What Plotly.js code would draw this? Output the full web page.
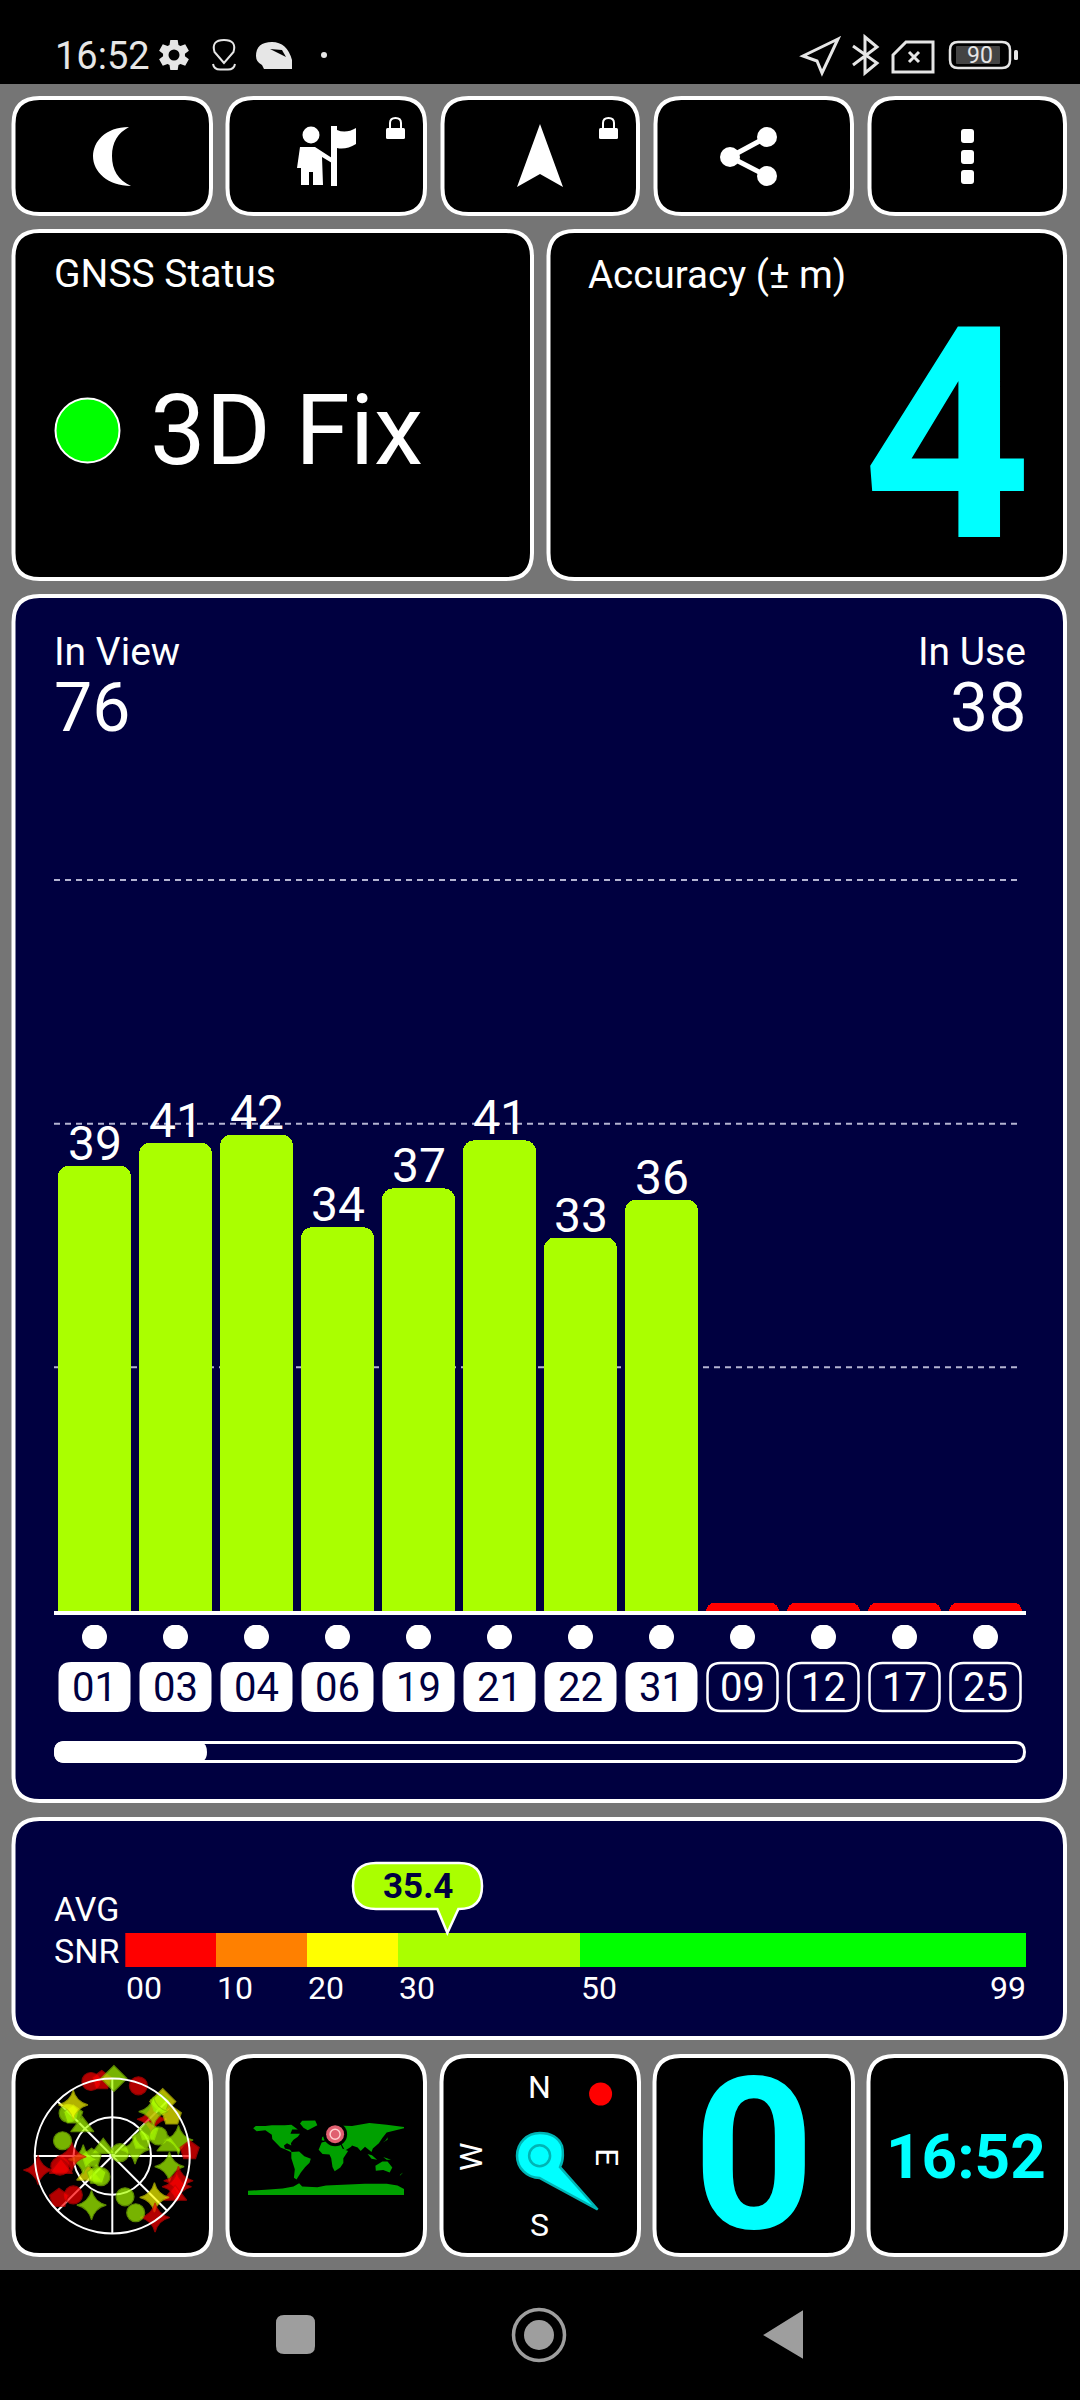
<!DOCTYPE html>
<html>
<head>
<meta charset="utf-8">
<script src="https://cdn.plot.ly/plotly-3.0.1.min.js"></script>
<style>
  html, body { margin: 0; padding: 0; background: #757575; }
  #chart { width: 1080px; height: 2400px; }
</style>
</head>
<body>
<div id="chart"></div>
<script>
// satellites
const prns = ['01', '03', '04', '06', '19', '21', '22', '31', '09', '12', '17', '25'];
const snrValues = [39, 41, 41.7, 33.6, 37, 41.2, 32.7, 36, 0.7, 0.7, 0.7, 0.7];
const usedFlags = [1, 1, 1, 1, 1, 1, 1, 1, 0, 0, 0, 0];
const gridValues = [21.33, 42.67, 64];

// average SNR scale
const snrBandWidths = [10, 10, 10, 20, 49];
const snrTicks = [0, 10, 20, 30, 50, 99];
const snrTickText = ['00', '10', '20', '30', '50', '99'];
const avgSnr = 35.4;

// sky plot, drawn in this order
const skyAz = [47, 42.8, 42.1, 56, 42.8, 55.9, 61.4, 66.5, 79.9, 76.4, 73.6, 66.5, 86, 100.6, 110.5, 115.5, 122, 134.5, 145.2, 157.6, 162.7, 202.9, 231.6, 208.7, 219.5, 263.6, 263.4, 225, 231.6, 259, 256.5, 269, 259.3, 287, 310.4, 314.4, 314, 316.4, 322.6, 344, 20.4, 352, 1.2];
const skyZen = [62.6, 86.2, 82.7, 83.3, 70.3, 50.6, 38.9, 58.4, 66.2, 79, 27.5, 9.7, 90, 67.5, 82, 83, 86, 68.6, 87, 71.3, 49.6, 61.9, 35.6, 27.4, 28.7, 24.2, 34, 64, 79, 62, 61.4, 47.3, 87.7, 60.5, 13.8, 48.8, 71.3, 65.9, 74.7, 90, 87, 88.5, 90];
const skyShape = ['star', 'diamond', 'pentagon', 'pentagon', 'star', 'pentagon', 'pentagon', 'circle', 'triangle', 'star', 'star', 'circle', 'pentagon', 'star', 'star', 'star', 'triangle', 'star', 'star', 'circle', 'circle', 'star', 'triangle', 'circle', 'pentagon', 'pentagon', 'star', 'circle', 'pentagon', 'circle', 'triangle', 'star', 'star', 'circle', 'triangle', 'triangle', 'circle', 'pentagon', 'star', 'circle', 'circle', 'pentagon', 'diamond'];
const skyTone = ['r', 'y', 'g', 'y', 'g', 'g', 'g', 'g', 'g', 'g', 'g', 'g', 'r', 'g', 'r', 'r', 'r', 'y', 'r', 'g', 'g', 'g', 'y', 'g', 'g', 'g', 'g', 'r', 'r', 'r', 'r', 'r', 'r', 'g', 'g', 'g', 'g', 'g', 'y', 'r', 'r', 'r', 'g'];

// world map outlines, lon / lat, null between land masses
const landLon = [-168, -162, -140, -125, -95, -80, -65, -78, -82, -60, -65, -75, -81, -80, -90, -97, -95, -83, -78, -85, -95, -105, -115, -124, -125, -140, -160, -168, null,
  -55, -25, -20, -42, -52, -60, null,
  -80, -62, -50, -35, -38, -48, -58, -68, -74, -72, -80, null,
  -17, -10, 10, 32, 38, 51, 40, 40, 33, 20, 15, 12, 8, -8, null,
  -10, -9, 0, 8, 5, 25, 60, 100, 140, 180, 180, 162, 140, 130, 122, 108, 105, 100, 95, 90, 80, 73, 60, 58, 44, 35, 28, 20, 12, 5, -5, null,
  114, 130, 142, 153, 147, 132, 115, null,
  96, 105, 118, 106, null,
  132, 150, 140, null,
  131, 142, 142, 138, null,
  -6, 1, -3, null,
  172, 178, 170, null,
  -180, -180, -140, -100, -75, -62, -55, -20, 0, 40, 90, 140, 165, 180, 180];
const landLat = [65, 70, 70, 72, 72, 73, 62, 62, 52, 52, 45, 38, 30, 25, 30, 25, 18, 15, 8, 12, 16, 20, 30, 40, 50, 60, 58, 65, null,
  82, 83, 72, 60, 66, 76, null,
  10, 11, 0, -6, -15, -25, -38, -54, -50, -30, -5, null,
  15, 32, 37, 31, 18, 12, -5, -16, -26, -35, -25, -5, 4, 5, null,
  37, 44, 50, 57, 62, 71, 70, 77, 73, 68, 65, 60, 55, 42, 30, 18, 10, 14, 18, 22, 12, 20, 25, 22, 13, 30, 37, 38, 44, 43, 36, null,
  -22, -12, -12, -26, -38, -32, -34, null,
  5, -6, -8, 2, null,
  -2, -8, -8, null,
  32, 38, 44, 37, null,
  50, 52, 58, null,
  -42, -38, -46, null,
  -90, -80, -78, -75, -70, -63, -70, -72, -68, -66, -64, -64, -68, -76, -90];
const fixLon = [21];
const fixLat = [51];

const NAVY = '#000040';
const LIME = '#aaff00';
const CYAN = '#00ffff';
const GREY = '#9e9e9e';
const STATUS = '#e6e6e6';
const FONT = 'Roboto, sans-serif';
const bandColors = ['#ff0000', '#ff8000', '#ffff00', LIME, '#00ff00'];
const toneFill = { r: '#ff0000', y: '#ffff00', g: LIME };
const toneLine = { r: '#c80000', y: '#c8c800', g: '#80c000' };
const symbolOf = { star: 'star-diamond', circle: 'circle', triangle: 'triangle-up', pentagon: 'pentagon', diamond: 'diamond' };
const sizeOf = { star: 21, circle: 18, triangle: 20, pentagon: 20, diamond: 20 };

// page is laid out in pixels
const domX = (a, b) => [a / 1080, b / 1080];
const domY = (top, bottom) => [1 - bottom / 2400, 1 - top / 2400];

function bandColor(v) {
  let edge = 0;
  for (let i = 0; i < snrBandWidths.length; i++) {
    edge += snrBandWidths[i];
    if (v < edge) return bandColors[i];
  }
  return bandColors[bandColors.length - 1];
}

function rr(x0, y0, x1, y1, r) {
  return `M${x0 + r},${y0} L${x1 - r},${y0} Q${x1},${y0} ${x1},${y0 + r} L${x1},${y1 - r} Q${x1},${y1} ${x1 - r},${y1} L${x0 + r},${y1} Q${x0},${y1} ${x0},${y1 - r} L${x0},${y0 + r} Q${x0},${y0} ${x0 + r},${y0} Z`;
}

const shapes = [];
const annotations = [];

function path(d, fill, line, width, layer) {
  shapes.push({
    type: 'path', xref: 'x', yref: 'y', path: d, fillcolor: fill || 'rgba(0,0,0,0)',
    line: { color: line || 'rgba(0,0,0,0)', width: line ? (width || 2) : 0 }, layer: layer || 'below'
  });
}

function circle(cx, cy, r, fill, line, width, layer) {
  shapes.push({
    type: 'circle', xref: 'x', yref: 'y', x0: cx - r, x1: cx + r, y0: cy - r, y1: cy + r,
    fillcolor: fill || 'rgba(0,0,0,0)', line: { color: line || 'rgba(0,0,0,0)', width: line ? (width || 2) : 0 }, layer: layer || 'below'
  });
}

function label(text, x, y, size, color, anchor, opts) {
  const o = opts || {};
  annotations.push({
    text: text, x: x, y: y, xref: o.xref || 'x', yref: 'y', showarrow: false,
    xanchor: anchor || 'left', yanchor: 'middle', textangle: o.angle || 0, borderpad: 0, borderwidth: 0,
    font: { family: FONT, size: size, color: color, weight: o.weight || 400 }
  });
}

function panel(x0, y0, x1, y1, fill) {
  path(rr(x0 + 1.5, y0 + 2, x1 - 1, y1 - 2, 26), fill, '#ffffff', 4);
}

function lock(x) {
  path(rr(x, 128, x + 19, 139, 1.5), '#ffffff');
  path(`M${x + 4},129 L${x + 4},123 Q${x + 4},118 ${x + 9.5},118 Q${x + 15},118 ${x + 15},123 L${x + 15},129`, null, '#ffffff', 2);
}

function gear(cx, cy) {
  let d = '';
  for (let i = 0; i < 6; i++) {
    const a = i * Math.PI / 3;
    const pts = [[a - 0.42, 11], [a - 0.24, 15.5], [a + 0.24, 15.5], [a + 0.42, 11]];
    pts.forEach((p, k) => {
      d += `${i === 0 && k === 0 ? 'M' : 'L'}${cx + p[1] * Math.sin(p[0])},${cy - p[1] * Math.cos(p[0])} `;
    });
  }
  path(d + 'Z', STATUS);
  circle(cx, cy, 5.5, '#000000');
}

// backgrounds
path('M0,0 L1080,0 L1080,84 L0,84 Z', '#000000');
path('M0,2270 L1080,2270 L1080,2400 L0,2400 Z', '#000000');

[[12, 212], [226, 426], [441, 639], [654, 853], [868, 1066]].forEach(b => panel(b[0], 96, b[1], 216, '#000000'));
panel(12, 229, 533, 581, '#000000');
panel(547, 229, 1066, 581, '#000000');
panel(12, 594, 1066, 1803, NAVY);
panel(12, 1817, 1066, 2040, NAVY);
[[12, 212], [226, 426], [440, 640], [653, 854], [867, 1067]].forEach(b => panel(b[0], 2054, b[1], 2257, '#000000'));

// status bar
label('16:52', 55, 56, 38, STATUS);
gear(174, 55);
path('M224,63 L214.5,52 Q211,40 224,40 Q237,40 233.5,52 Z', null, STATUS, 2);
path('M213,64 Q214,69.5 220,69.5 L228,69.5 Q234,69.5 235,64', null, STATUS, 2);
path('M256,56 Q256,42 272,42 Q287,42 292,60 L292,69 L264,69 L262,65 Q256,62 256,56 Z', STATUS);
path('M270,49 L282,50 L286,57 Z', '#000000');
circle(324, 55, 3, STATUS);
path('M838,39 L803,56 L817,61 L822,73 Z', null, STATUS, 3);
path('M853,46 L877,63 L865,73 L865,37 L877,47 L853,65', null, STATUS, 3);
path('M893,55 L906,42 L933,42 L933,72 L893,72 Z', null, STATUS, 3);
path('M909,52 L919,62 M919,52 L909,62', null, STATUS, 3);
path(rr(950, 42, 1010, 68, 8), null, STATUS, 2.5);
path(rr(956, 46, 1000, 64, 1), '#444444');
label('90', 980, 55, 23, STATUS, 'center');
path(rr(1014, 50, 1018, 60, 1.5), STATUS);

// toolbar icons
path('M129,127 C105,127 93,142 93,156 C93,172 108,186 131,186 C118,180 112,170 112,156 C112,142 118,133 129,127 Z', '#ffffff');
circle(311, 135, 8.5, '#ffffff');
path('M300,147 L315,147 L332,158 L332,163 L322,157 L323,185 L313,185 L313,172 L309,172 L309,185 L301,185 L301,168 L297,168 Z', '#ffffff');
path('M331,126 L337,126 L337,186 L331,186 Z', '#ffffff');
path('M337,130 Q346,134 356,128 L356,144 Q346,150 337,148 Z', '#ffffff');
lock(386);
path('M540,124 L563,187 L540,174 L517,187 Z', '#ffffff');
lock(599);
path('M767,137 L730,157 L767,176', null, '#ffffff', 5);
circle(767, 137, 10, '#ffffff');
circle(730, 157, 10, '#ffffff');
circle(767, 176, 10, '#ffffff');
[129, 150, 170].forEach(y => path(rr(961, y, 974, y + 14, 3), '#ffffff'));

// status panels
label('GNSS Status', 54, 274, 39, '#ffffff');
label('Accuracy (± m)', 588, 274, 38.5, '#ffffff');
circle(87.5, 430.5, 32, '#00ff00', '#ffffff', 2);
label('3D Fix', 150, 430, 99, '#ffffff');
label('4', 1032, 435, 296, CYAN, 'right', { weight: 700 });

// chart header
label('In View', 54, 652, 39, '#ffffff');
label('76', 54, 708, 68, '#ffffff');
label('In Use', 1026, 652, 39, '#ffffff', 'right');
label('38', 1026, 708, 68, '#ffffff', 'right');

// bar grid, same scale as the bar axis
const barBase = 1611, barPxPerUnit = 731 / 64;
gridValues.forEach(v => {
  const y = barBase - v * barPxPerUnit;
  shapes.push({
    type: 'line', xref: 'x', yref: 'y', x0: 54, x1: 1022, y0: y, y1: y, layer: 'below',
    line: { color: '#b4b4d2', width: 2, dash: '6px,5px' }
  });
});

// SNR labels above the bars
snrValues.forEach((v, i) => {
  if (v < 1) return;
  annotations.push({
    text: String(Math.round(v)), x: i, y: v, xref: 'x2', yref: 'y2', showarrow: false,
    xanchor: 'center', yanchor: 'bottom', yshift: -6, borderpad: 0, borderwidth: 0,
    font: { family: FONT, size: 48, color: '#ffffff' }
  });
});

// PRN chips under the bars
prns.forEach((p, i) => {
  const cx = 54 + 81 * (i + 0.5);
  if (usedFlags[i]) {
    path(rr(cx - 36, 1662, cx + 36, 1712, 13), '#ffffff');
  } else {
    path(rr(cx - 35, 1663, cx + 35, 1711, 13), null, '#ffffff', 2.5);
  }
  label(p, i, 1687, 40, usedFlags[i] ? NAVY : '#ffffff', 'center', { xref: 'x2' });
});

// list scroll bar
path(rr(55.5, 1742.5, 1024.5, 1761.5, 9.5), null, '#ffffff', 3);
path(rr(54, 1741, 207, 1763, 11), '#ffffff');

// average SNR
const snrLeft = 125.3, snrRight = 1026;
const snrPx = v => snrLeft + v * (snrRight - snrLeft) / 99;
label('AVG', 54, 1909, 34, '#ffffff');
label('SNR', 54, 1951, 34, '#ffffff');
snrTicks.forEach((t, i) => {
  const last = i === snrTicks.length - 1;
  label(snrTickText[i], last ? t : t + 0.1, 1988, 32, '#ffffff', last ? 'right' : 'left', { xref: 'x3' });
});
const tip = snrPx(avgSnr);
const bl = 353, br = 482, bt = 1863, bb = 1909, br2 = 23;
path(`M${bl + br2},${bt} L${br - br2},${bt} Q${br},${bt} ${br},${bt + br2} Q${br},${bb} ${br - br2},${bb} L${tip + 11},${bb} L${tip},1933 L${tip - 10},${bb} L${bl + br2},${bb} Q${bl},${bb} ${bl},${bb - br2} Q${bl},${bt} ${bl + br2},${bt} Z`, LIME, '#ffffff', 2.5, 'above');
label(String(avgSnr), 417.5, 1886, 35, NAVY, 'center', { weight: 700 });

// compass
label('N', 539, 2087, 32, '#ffffff', 'center');
label('S', 539, 2225, 32, '#ffffff', 'center');
label('E', 607, 2157, 32, '#ffffff', 'center', { angle: 90 });
label('W', 471, 2157, 32, '#ffffff', 'center', { angle: -90 });
circle(600.6, 2094, 11.5, '#ff0000');
path('M597.6,2209.5 L560,2167 C564,2160 563,2150 562,2146 C558,2136 549,2133 539.6,2133 C527,2133 517,2143 517,2155.7 C517,2168 527,2178 539.6,2178 L545,2181 Z', CYAN, '#00b4b4', 2.5);
circle(539.6, 2155.7, 10.5, null, '#00b4b4', 2.5);

// bottom panel readouts
label('0', 754, 2155, 212, CYAN, 'center', { weight: 700 });
label('16:52', 966, 2156, 62, CYAN, 'center', { weight: 700 });

// navigation bar
path(rr(276, 2315, 315, 2354, 8), GREY);
circle(539, 2335, 25.5, null, GREY, 3.5);
circle(539, 2335, 15, GREY);
path('M765,2335 L802,2312 L802,2357 Z', GREY, GREY, 2);

// traces
const traces = [];

traces.push({
  type: 'bar', x: prns, y: snrValues, xaxis: 'x2', yaxis: 'y2',
  marker: { color: snrValues.map(bandColor), cornerradius: 11 },
  hoverinfo: 'skip'
});

traces.push({
  type: 'scatter', mode: 'markers', x: prns, y: prns.map(() => 0), xaxis: 'x2', yaxis: 'y4',
  marker: { color: '#ffffff', size: 25 }, hoverinfo: 'skip'
});

snrBandWidths.forEach((w, i) => {
  traces.push({
    type: 'bar', orientation: 'h', x: [w], y: ['SNR'], xaxis: 'x3', yaxis: 'y3',
    marker: { color: bandColors[i] }, hoverinfo: 'skip'
  });
});

traces.push({
  type: 'scatterpolar', mode: 'markers', subplot: 'polar', r: skyZen, theta: skyAz, cliponaxis: false,
  marker: {
    symbol: skyShape.map(s => symbolOf[s]),
    size: skyShape.map(s => sizeOf[s]),
    color: skyTone.map(t => toneFill[t]),
    line: { color: skyTone.map(t => toneLine[t]), width: 1.2 }
  },
  hoverinfo: 'skip'
});

traces.push({
  type: 'scatter', mode: 'lines', x: landLon, y: landLat, xaxis: 'x5', yaxis: 'y5',
  fill: 'toself', fillcolor: '#00a000', line: { width: 0 }, hoverinfo: 'skip'
});
traces.push({
  type: 'scatter', mode: 'markers', x: fixLon, y: fixLat, xaxis: 'x5', yaxis: 'y5', cliponaxis: false,
  marker: { color: '#000000', size: 24 }, hoverinfo: 'skip'
});
traces.push({
  type: 'scatter', mode: 'markers', x: fixLon, y: fixLat, xaxis: 'x5', yaxis: 'y5', cliponaxis: false,
  marker: { color: '#e06070', size: 18, line: { color: '#e06070', width: 0 } }, hoverinfo: 'skip'
});
traces.push({
  type: 'scatter', mode: 'markers', x: fixLon, y: fixLat, xaxis: 'x5', yaxis: 'y5', cliponaxis: false,
  marker: { color: 'rgba(0,0,0,0)', size: 10, line: { color: '#ffd0d0', width: 1.5 } }, hoverinfo: 'skip'
});

const hidden = { visible: false, fixedrange: true };

const layout = {
  width: 1080,
  height: 2400,
  margin: { t: 0, l: 0, r: 0, b: 0, pad: 0 },
  paper_bgcolor: '#757575',
  plot_bgcolor: 'rgba(0,0,0,0)',
  showlegend: false,
  hovermode: false,
  barmode: 'stack',
  bargap: 0.1,
  font: { family: FONT },
  // pixel canvas used for the panels and icons
  xaxis: { ...hidden, domain: [0, 1], range: [0, 1080], anchor: 'y' },
  yaxis: { ...hidden, domain: [0, 1], range: [2400, 0], anchor: 'x' },
  // satellite bars
  xaxis2: {
    domain: domX(54, 1026), anchor: 'y2', type: 'category', categoryorder: 'array', categoryarray: prns,
    range: [-0.5, 11.5], showline: true, linecolor: '#ffffff', linewidth: 4, showticklabels: false, ticks: '',
    showgrid: false, zeroline: false, fixedrange: true
  },
  yaxis2: {
    domain: domY(880, barBase), anchor: 'x2', range: [0, 64], showticklabels: false, ticks: '',
    showgrid: false, zeroline: false, showline: false, fixedrange: true
  },
  // average SNR scale
  xaxis3: { ...hidden, domain: domX(snrLeft, snrRight), anchor: 'y3', range: [0, 99] },
  yaxis3: { ...hidden, domain: domY(1933, 1967), anchor: 'x3', type: 'category', range: [-0.45, 0.45] },
  // used / not used dots
  yaxis4: { ...hidden, domain: domY(1625, 1649), anchor: 'x2', range: [-1, 1] },
  // world map
  xaxis5: { ...hidden, domain: domX(248, 404), anchor: 'y5', range: [-180, 180] },
  yaxis5: { ...hidden, domain: domY(2120, 2195), anchor: 'x5', range: [-90, 84] },
  polar: {
    domain: { x: domX(34.8, 189.8), y: domY(2078.5, 2233.5) },
    bgcolor: 'rgba(0,0,0,0)',
    radialaxis: {
      range: [0, 90], tickvals: [45, 90], showticklabels: false, ticks: '', showline: false,
      gridcolor: '#ffffff', gridwidth: 2
    },
    angularaxis: {
      direction: 'clockwise', rotation: 90, tickvals: [0, 45, 90, 135, 180, 225, 270, 315], showticklabels: false, ticks: '',
      gridcolor: '#ffffff', gridwidth: 2, linecolor: '#ffffff', linewidth: 2
    }
  },
  shapes: shapes,
  annotations: annotations
};

Plotly.newPlot('chart', traces, layout, { displayModeBar: false, staticPlot: true });
</script>
</body>
</html>
